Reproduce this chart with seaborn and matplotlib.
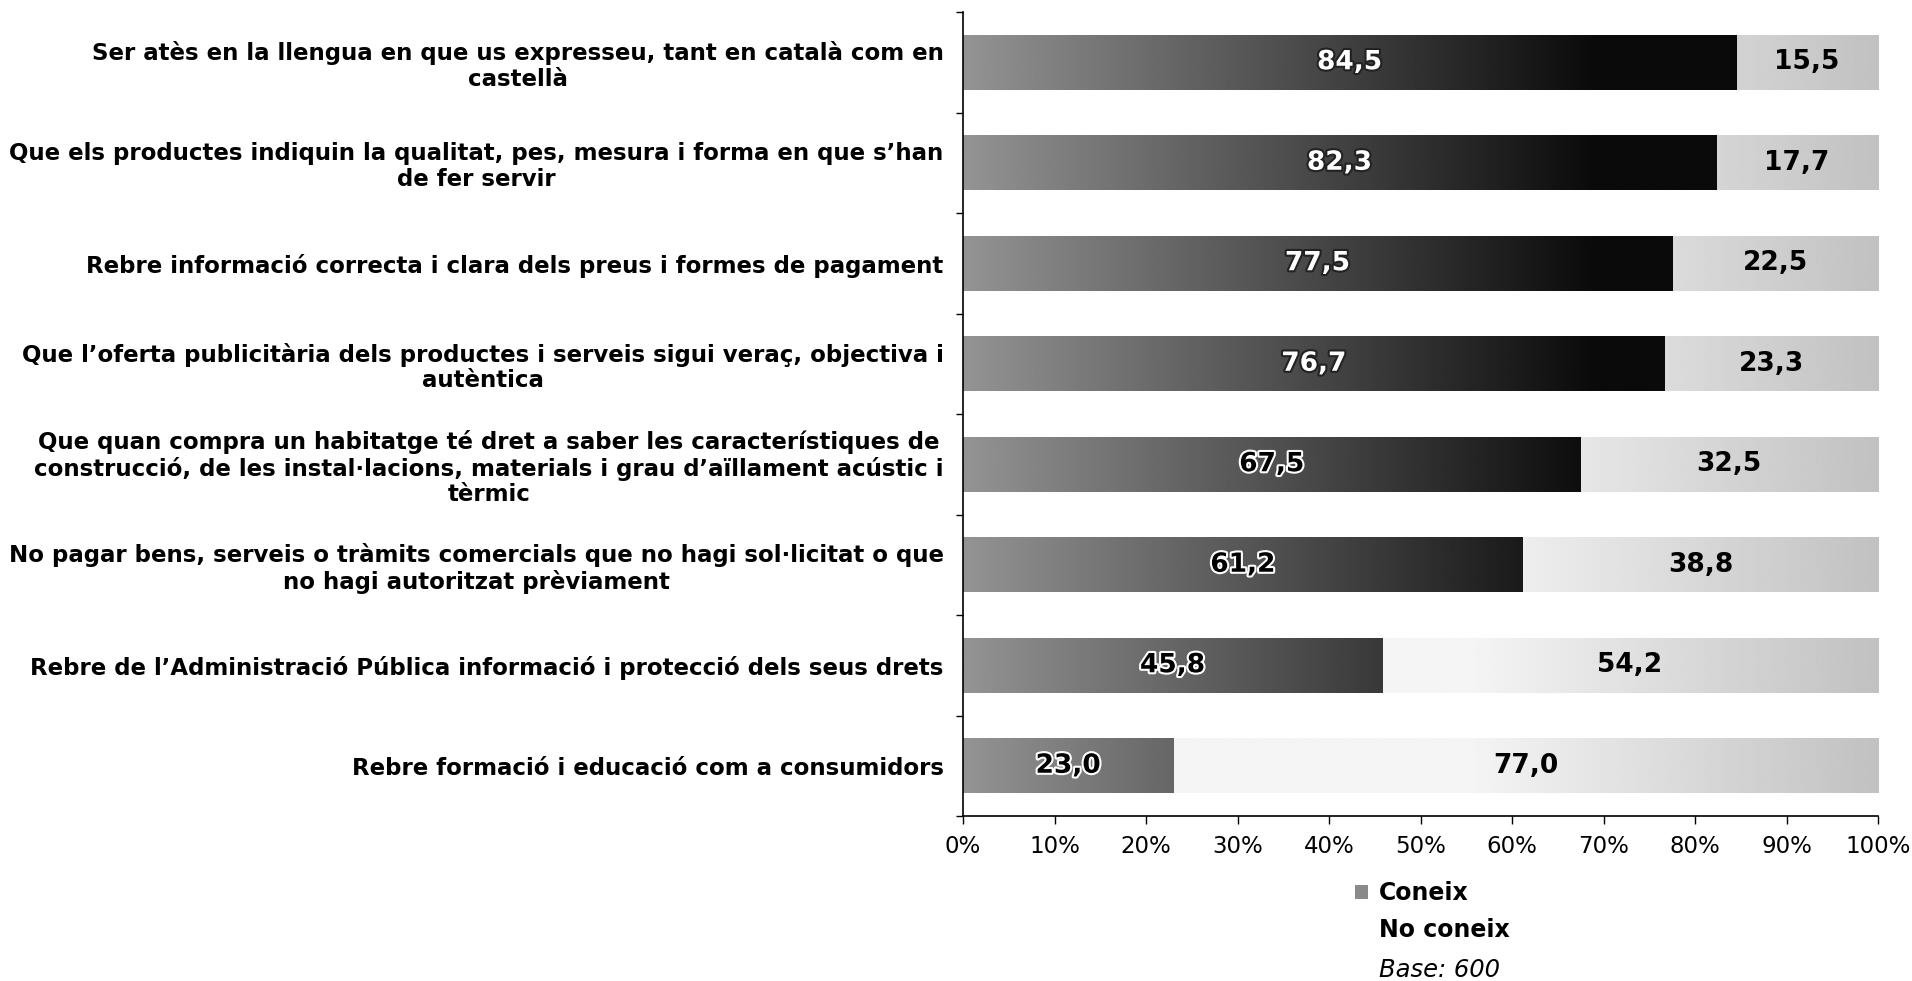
import matplotlib.pyplot as plt
import matplotlib.patheffects as pe
from matplotlib.patches import Patch
import seaborn as sns
import numpy as np
import pandas as pd

categories = [
    "Ser atès en la llengua en que us expresseu, tant en català com en\ncastellà",
    "Que els productes indiquin la qualitat, pes, mesura i forma en que s’han\nde fer servir",
    "Rebre informació correcta i clara dels preus i formes de pagament",
    "Que l’oferta publicitària dels productes i serveis sigui veraç, objectiva i\nautèntica",
    "Que quan compra un habitatge té dret a saber les característiques de\nconstrucció, de les instal·lacions, materials i grau d’aïllament acústic i\ntèrmic",
    "No pagar bens, serveis o tràmits comercials que no hagi sol·licitat o que\nno hagi autoritzat prèviament",
    "Rebre de l’Administració Pública informació i protecció dels seus drets",
    "Rebre formació i educació com a consumidors",
]
coneix = [84.5, 82.3, 77.5, 76.7, 67.5, 61.2, 45.8, 23.0]
no_coneix = [15.5, 17.7, 22.5, 23.3, 32.5, 38.8, 54.2, 77.0]
x_ticks = [0, 10, 20, 30, 40, 50, 60, 70, 80, 90, 100]

df = pd.DataFrame({"cat": categories, "coneix": coneix, "no_coneix": no_coneix})
df["total"] = df["coneix"] + df["no_coneix"]

sns.set_style("white")
plt.rcParams["font.family"] = ["DejaVu Sans"]
plt.rcParams["text.color"] = "black"
plt.rcParams["xtick.color"] = "black"
plt.rcParams["ytick.color"] = "black"

fig = plt.figure(figsize=(19.12, 9.81), dpi=100)
ax = fig.add_axes([963 / 1912, 1 - 816 / 981, (1878 - 963) / 1912, (816 - 12) / 981])

bar_w = 0.55
sns.barplot(data=df, x="total", y="cat", orient="h", color="#e0e0e0", width=bar_w, ax=ax)
sns.barplot(data=df, x="coneix", y="cat", orient="h", color="#555555", width=bar_w, ax=ax)

# scanned-look gradients clipped to the bars
xs = np.linspace(0, 100, 400)
dark_grad = np.clip(0.58 - 0.0078 * xs, 0.04, 1)[None, :]
light_grad = np.clip(0.96 - 0.0045 * np.clip(xs - 55, 0, None), 0, 1)[None, :]
for cont, grad in [(ax.containers[0], light_grad), (ax.containers[1], dark_grad)]:
    for bar in cont:
        y0 = bar.get_y()
        y1 = y0 + bar.get_height()
        im = ax.imshow(grad, extent=[0, 100, y1, y0], cmap="gray", vmin=0, vmax=1,
                       aspect="auto", zorder=bar.get_zorder(), interpolation="bilinear")
        im.set_clip_path(bar)
        bar.set_facecolor("none")
        bar.set_edgecolor("none")

ax.set_xlim(0, 100)
ax.set_ylim(len(categories) - 0.5, -0.5)

# value labels
for i, (c, n) in enumerate(zip(df["coneix"], df["no_coneix"])):
    light = i < 4
    ax.text(c / 2, i, f"{c:.1f}".replace(".", ","), ha="center", va="center",
            fontsize=19, fontweight="bold", color="white" if light else "black",
            path_effects=[pe.withStroke(linewidth=3, foreground="#222222" if light else "white")],
            zorder=5)
    ax.text(c + n / 2, i, f"{n:.1f}".replace(".", ","), ha="center", va="center",
            fontsize=19, fontweight="bold", color="black", zorder=5)

ax.set_xticks(x_ticks)
ax.set_xticklabels([f"{t}%" for t in x_ticks], fontsize=16.5)
ax.set_yticks(range(len(categories)))
ax.set_yticklabels(df["cat"], fontsize=16.5, fontweight="bold", multialignment="center",
                   linespacing=1.15)
ax.set_yticks(np.arange(-0.5, len(categories)), minor=True)
ax.tick_params(axis="y", which="major", left=False, length=0, pad=14)
ax.tick_params(axis="y", which="minor", left=True, length=5, width=1, direction="out")
ax.tick_params(axis="x", bottom=True, length=6, width=1, direction="out", pad=8)
ax.set_xlabel("")
ax.set_ylabel("")

sns.despine(ax=ax, top=True, right=True)
for s in ["left", "bottom"]:
    ax.spines[s].set_color("black")
    ax.spines[s].set_linewidth(1.2)

handles = [Patch(facecolor="#8a8a8a", edgecolor="none"),
           Patch(facecolor="white", edgecolor="none")]
leg = fig.legend(handles, ["Coneix", "No coneix"], loc="upper left",
                 bbox_to_anchor=(1355 / 1912, 1 - 881 / 981), frameon=False,
                 prop={"size": 17, "weight": "bold"}, handlelength=0.55,
                 handleheight=0.55, handletextpad=0.45, labelspacing=0.55,
                 borderaxespad=0, borderpad=0)
fig.text(1379 / 1912, 1 - 970 / 981, "Base: 600", fontsize=17.5, style="italic",
         ha="left", va="center")

fig.savefig("out.png", dpi=100, facecolor="white")
